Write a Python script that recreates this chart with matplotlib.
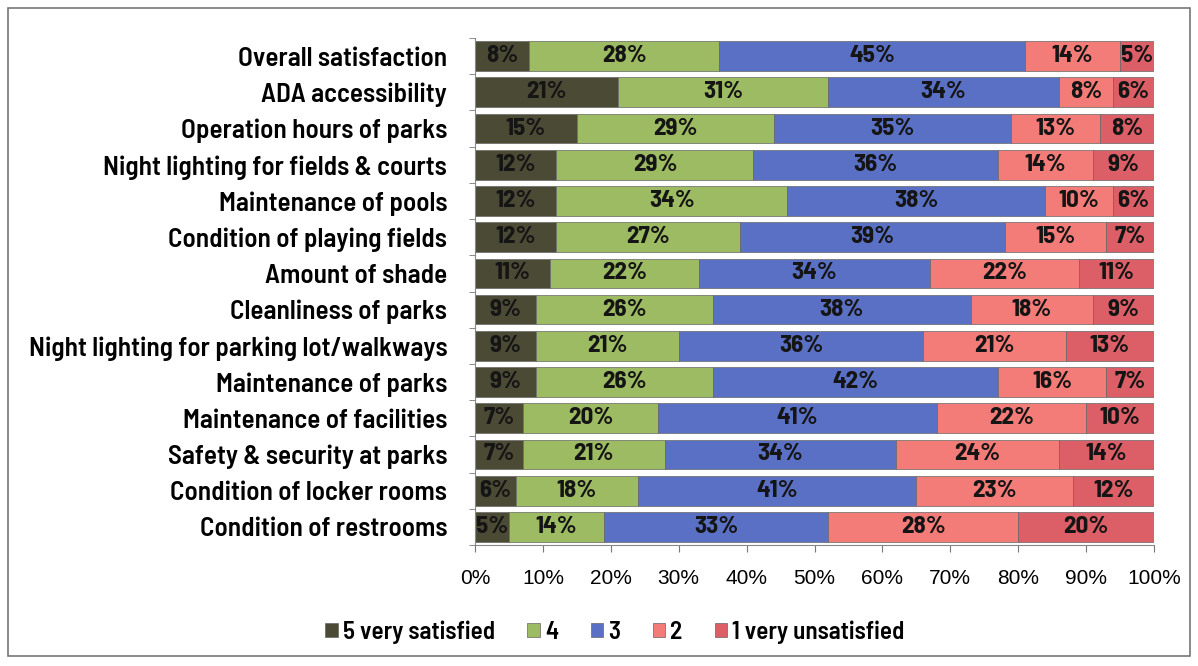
import numpy as np
import matplotlib.pyplot as plt
from matplotlib.patches import Rectangle

categories = ["Overall satisfaction", "ADA accessibility", "Operation hours of parks",
              "Night lighting for fields & courts", "Maintenance of pools",
              "Condition of playing fields", "Amount of shade", "Cleanliness of parks",
              "Night lighting for parking lot/walkways", "Maintenance of parks",
              "Maintenance of facilities", "Safety & security at parks",
              "Condition of locker rooms", "Condition of restrooms"]

s5 = [8, 21, 15, 12, 12, 12, 11, 9, 9, 9, 7, 7, 6, 5]
s4 = [28, 31, 29, 29, 34, 27, 22, 26, 21, 26, 20, 21, 18, 14]
s3 = [45, 34, 35, 36, 38, 39, 34, 38, 36, 42, 41, 34, 41, 33]
s2 = [14, 8, 13, 14, 10, 15, 22, 18, 21, 16, 22, 24, 23, 28]
s1 = [5, 6, 8, 9, 6, 7, 11, 9, 13, 7, 10, 14, 12, 20]

series = [s5, s4, s3, s2, s1]
names = ["5 very satisfied", "4", "3", "2", "1 very unsatisfied"]
colors = ["#4b4a35", "#9dbb62", "#5a70c4", "#f47c78", "#dc5e66"]

semi = ["Barlow Semi Condensed", "Archivo Narrow", "Liberation Sans", "DejaVu Sans"]
plt.rcParams['font.family'] = semi

fig = plt.figure(figsize=(11.98, 6.66), dpi=100)
ax = fig.add_axes([475/1198, 1-545/666, (1154-475)/1198, (545-38)/666])

y = np.arange(len(categories))
left = np.zeros(len(categories))
for vals, name, col in zip(series, names, colors):
    vals = np.array(vals)
    ax.barh(y, vals/100, left=left/100, height=0.82, color=col, label=name,
            edgecolor="#666666", linewidth=0.5)
    for yi, (l, v) in enumerate(zip(left, vals)):
        ax.text((l + v/2)/100, yi, f"{v}%", ha="center", va="center",
                fontsize=18, fontweight="bold", color="#151515")
    left += vals

ax.set_ylim(len(categories)-0.5, -0.5)
ax.set_xlim(0, 1)
ax.set_xticks(np.arange(0, 1.01, 0.1))
ax.set_xticklabels([f"{i}%" for i in range(0, 101, 10)], fontsize=15,
                   family=["Liberation Sans", "DejaVu Sans"])
ax.set_yticks(y)
ax.set_yticklabels(categories, fontsize=19.5, fontweight="semibold")
ax.set_yticks(np.arange(-0.5, len(categories), 1), minor=True)
ax.tick_params(axis="y", which="major", length=0, pad=20)
ax.tick_params(axis="y", which="minor", length=4, color="#777777")
ax.tick_params(axis="x", length=5, pad=12, color="#777777")
for s in ["top", "right"]:
    ax.spines[s].set_visible(False)
ax.spines["left"].set_color("#888888")
ax.spines["bottom"].set_color("#888888")

fig.legend(loc="center", bbox_to_anchor=(615/1198, 1-632/666), ncol=5, frameon=False,
           handlelength=0.5, handleheight=0.5, handletextpad=0.2,
           columnspacing=1.3, prop={"size": 18, "weight": "semibold", "family": semi})

fig.patches.append(Rectangle((8/1198, 10/666), 1-16/1198, 1-18/666, transform=fig.transFigure,
                             fill=False, edgecolor="#777777", linewidth=1.2))

fig.savefig("out.png", dpi=100)
